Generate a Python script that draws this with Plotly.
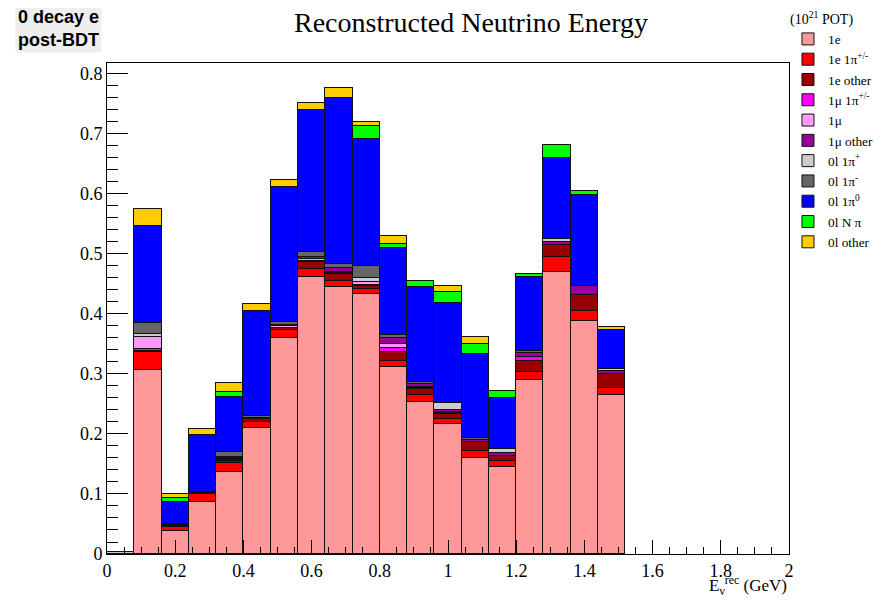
import plotly.graph_objects as go

# ---- data ----
bin_low = [0.00, 0.08, 0.16, 0.24, 0.32, 0.40, 0.48, 0.56, 0.64, 0.72,
           0.80, 0.88, 0.96, 1.04, 1.12, 1.20, 1.28, 1.36, 1.44]
bin_width = 0.08

e1     = [0, .306, .039, .086, .136, .2105, .3595, .462, .4455, .4333, .311, .2528, .216, .1605, .145, .2895, .4705, .388, .265]
e_pi   = [0, .030, .0065, .014, .016, .010, .0138, .0125, .010, .0077, .011, .0122, .009, .0112, .0095, .0133, .025, .017, .012]
e_oth  = [0, .003, .0012, .002, .003, .004, .003, .0125, .0105, .0057, .015, .010, .008, .0143, .0088, .0192, .0195, .0267, .023]
mu_pi  = [0, .002, .0008, .002, .002, 0, 0, .001, .002, .002, .006, .002, .002, 0, 0, .006, 0, 0, 0]
mu     = [0, .020, 0, 0, .001, 0, .004, .004, .001, .005, .007, .002, .002, 0, 0, 0, 0, 0, 0]
mu_oth = [0, .001, .0005, 0, .002, .002, 0, .002, .007, 0, .0095, .0043, .003, .004, .0047, .0065, .004, .015, .005]
l0_pip = [.004, .004, .002, 0, .002, 0, .001, 0, .001, .0058, 0, 0, .012, 0, .0065, 0, .0055, 0, .0038]
l0_pim = [0, .0185, 0, 0, .0085, .0035, .0047, .0098, .0063, .0195, .0055, .0037, 0, .004, 0, .0045, 0, 0, 0]
l0_pi0 = [0, .1625, .037, .094, .0915, .1755, .226, .2362, .2762, .212, .1445, .1575, .166, .1393, .086, .122, .135, .1513, .0645]
l0_npi = [0, 0, .006, 0, .0075, 0, 0, 0, 0, .0223, .0065, .010, .018, .0167, .0115, .0057, .0215, .006, 0]
l0_oth = [0, .0285, .0065, .010, .015, .0112, .0105, .011, .0165, .0062, .013, 0, .011, .012, 0, 0, 0, 0, .0055]

series_names = ["1e", "1e 1π<sup>+/-</sup>", "1e other", "1μ 1π<sup>+/-</sup>", "1μ",
                "1μ other", "0l 1π<sup>+</sup>", "0l 1π<sup>-</sup>", "0l 1π<sup>0</sup>",
                "0l N π", "0l other"]
series_vals = [e1, e_pi, e_oth, mu_pi, mu, mu_oth, l0_pip, l0_pim, l0_pi0, l0_npi, l0_oth]
series_colors = ["#ff9999", "#ff0000", "#990000", "#ff00ff", "#ff99ff", "#990099",
                 "#cccccc", "#666666", "#0000ff", "#00ff00", "#ffcc00"]

x_ticks = [0, 0.2, 0.4, 0.6, 0.8, 1, 1.2, 1.4, 1.6, 1.8, 2]
x_ticklabels = ["0", "0.2", "0.4", "0.6", "0.8", "1", "1.2", "1.4", "1.6", "1.8", "2"]
y_ticks = [0, 0.1, 0.2, 0.3, 0.4, 0.5, 0.6, 0.7, 0.8]
y_ticklabels = ["0", "0.1", "0.2", "0.3", "0.4", "0.5", "0.6", "0.7", "0.8"]

centers = [b + bin_width / 2 for b in bin_low]

serif = "Liberation Serif, Times New Roman, serif"

fig = go.Figure()
for name, vals, col in zip(series_names, series_vals, series_colors):
    fig.add_trace(go.Bar(
        x=centers, y=[v if v > 0 else None for v in vals], width=bin_width,
        name=name, marker=dict(color=col, line=dict(color="#111111", width=1)),
        hoverinfo="skip",
    ))

# page body adds an 8px offset, so the figure is 16px smaller and shifted
fig.update_layout(
    width=878, height=587,
    margin=dict(l=99, r=97, t=55, b=41, autoexpand=False),
    paper_bgcolor="white", plot_bgcolor="white",
    barmode="stack", bargap=0,
    font=dict(family=serif, size=18, color="black"),
    showlegend=True,
    legend=dict(
        x=0.9985, xanchor="left", y=1.117, yanchor="top",
        traceorder="normal", bgcolor="rgba(0,0,0,0)",
        font=dict(family=serif, size=13.3, color="black"),
        title=dict(text="(10<sup>21</sup> POT)", font=dict(family=serif, size=14)),
        tracegroupgap=0, itemwidth=30,
    ),
)

fig.update_xaxes(
    range=[0, 2], tickmode="array", tickvals=x_ticks, ticktext=x_ticklabels,
    ticks="inside", ticklen=14, tickcolor="black", tickwidth=1,
    minor=dict(dtick=0.05, ticks="inside", ticklen=7, tickcolor="black", showgrid=False),
    showline=True, linecolor="black", linewidth=1, mirror=True,
    showgrid=False, zeroline=False,
    tickfont=dict(family=serif, size=18),
)
fig.update_yaxes(
    range=[0, 0.818], tickmode="array", tickvals=y_ticks, ticktext=y_ticklabels,
    ticks="inside", ticklen=21, tickcolor="black", tickwidth=1,
    minor=dict(dtick=0.02, ticks="inside", ticklen=11, tickcolor="black", showgrid=False),
    showline=True, linecolor="black", linewidth=1, mirror=True,
    showgrid=False, zeroline=False,
    tickfont=dict(family=serif, size=18),
)

fig.add_annotation(
    text="Reconstructed Neutrino Energy", xref="paper", yref="paper",
    x=0.534, y=1.083, xanchor="center", yanchor="middle", showarrow=False,
    font=dict(family=serif, size=28, color="black"),
)
fig.add_annotation(
    text="E<sub>ν</sub><sup>rec</sup> (GeV)", xref="paper", yref="paper",
    x=1.0, y=-0.064, xanchor="right", yanchor="middle", showarrow=False,
    font=dict(family=serif, size=17, color="black"),
)
fig.add_annotation(
    text="<b>0 decay e</b><br><b>post-BDT</b>", xref="paper", yref="paper",
    x=-0.135, y=1.12, xanchor="left", yanchor="top", showarrow=False,
    align="left", bgcolor="#eeeeee", borderpad=2,
    font=dict(family="Liberation Sans, Arial, sans-serif", size=18, color="black"),
)

fig.write_html("out.html")
